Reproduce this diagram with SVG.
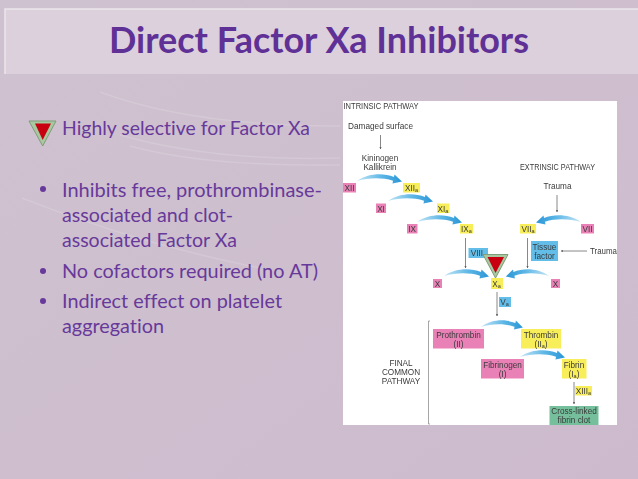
<svg xmlns="http://www.w3.org/2000/svg" width="638" height="479" viewBox="0 0 638 479">
<style>
.t{font-family:"Lato","Open Sans",sans-serif;fill:#67399a;font-variant-ligatures:none}
.b{font-size:19px}
.l,.n{font-family:"Liberation Sans",Arial,sans-serif;font-size:8.2px;fill:#3a3a3a;text-anchor:middle}
.st{text-anchor:start}
.pk{fill:#e981b6}.yl{fill:#f8ee5a}.bl{fill:#62bde8}.gr{fill:#74bf9c}
.arc{fill:url(#g)}
.s{fill:none;stroke:#6a6a6a;stroke-width:.8}
.w{fill:none;stroke:#fff;opacity:.14;stroke-width:1.5}
</style>
<defs>
<linearGradient id="bg" x1="0" y1="0" x2="1" y2="1"><stop offset="0" stop-color="#cfc2d0"/><stop offset="1" stop-color="#cdbbcd"/></linearGradient>
<linearGradient id="g" x1="0" y1="0" x2="1" y2="0"><stop offset="0" stop-color="#c6e6f6"/><stop offset=".55" stop-color="#5cb6e6"/><stop offset="1" stop-color="#2a96d6"/></linearGradient>
<filter id="blur" x="-5%" y="-5%" width="110%" height="110%"><feGaussianBlur stdDeviation=".45"/></filter>
<marker id="a" markerWidth="4" markerHeight="4" refX="3" refY="2" orient="auto"><path d="M0 0.4L3.4 2L0 3.6z" fill="#5f5f5f"/></marker>
<path id="arc" d="M0 0C12 -8 26 -8 37 -4L37.500 -6.500L45 0.500L35.500 2.500L36 -0.300C25 -3.700 12 -3.500 0 0z"/>
</defs>
<rect width="638" height="479" fill="url(#bg)"/>
<path class="w" d="M100 92C170 118 260 126 340 126"/>
<path class="w" d="M120 135C190 155 270 160 340 158"/>
<path class="w" d="M130 146C200 165 280 165 340 165"/>
<path class="w" d="M22 198C90 225 170 250 260 268"/>
<g id="title-band">
<rect x="5" y="9" width="633" height="65" fill="#dbd0db"/>
<path d="M5 74V9H638" fill="none" stroke="#ece6ec" stroke-width="1.5"/>
<text class="t" x="319" y="53" font-size="36" font-weight="700" style="fill:#5f3096" text-anchor="middle" textLength="420" lengthAdjust="spacingAndGlyphs">Direct Factor Xa Inhibitors</text>
</g>
<g id="bullets">
<polygon points="29,121 56,121 42.700,146" fill="#a7c8a0" stroke="#7f9d78" stroke-width="1"/>
<polygon points="35,123.500 51,123.500 42.700,140" fill="#c8000f"/>
<text class="t b" x="62" y="135" textLength="248" lengthAdjust="spacingAndGlyphs">Highly selective for Factor Xa</text>
<circle cx="43" cy="189" r="3" fill="#67399a"/>
<text class="t b" x="62" y="197" textLength="260" lengthAdjust="spacingAndGlyphs">Inhibits free, prothrombinase-</text>
<text class="t b" x="62" y="222" textLength="171" lengthAdjust="spacingAndGlyphs">associated and clot-</text>
<text class="t b" x="62" y="247" textLength="175" lengthAdjust="spacingAndGlyphs">associated Factor Xa</text>
<circle cx="43" cy="271" r="3" fill="#67399a"/>
<text class="t b" x="62" y="278" textLength="256" lengthAdjust="spacingAndGlyphs">No cofactors required (no AT)</text>
<circle cx="43" cy="301" r="3" fill="#67399a"/>
<text class="t b" x="62" y="308" textLength="220" lengthAdjust="spacingAndGlyphs">Indirect effect on platelet</text>
<text class="t b" x="62" y="333" textLength="102" lengthAdjust="spacingAndGlyphs">aggregation</text>
</g>
<g id="figure" filter="url(#blur)">
<rect x="343" y="101" width="274" height="324" fill="#fff"/>
<g id="labels">
<text class="l st" x="343.500" y="109" textLength="75" lengthAdjust="spacingAndGlyphs">INTRINSIC PATHWAY</text>
<text class="l st" x="348" y="129" textLength="65" lengthAdjust="spacingAndGlyphs">Damaged surface</text>
<text class="l" x="380" y="161">Kininogen</text>
<text class="l" x="380" y="170">Kallikrein</text>
<text class="l st" x="520" y="170" textLength="75" lengthAdjust="spacingAndGlyphs">EXTRINSIC PATHWAY</text>
<text class="l" x="557.500" y="189">Trauma</text>
<text class="l st" x="590" y="254" textLength="27" lengthAdjust="spacingAndGlyphs">Trauma</text>
<text class="l" x="401" y="366">FINAL</text>
<text class="l" x="401" y="375">COMMON</text>
<text class="l" x="401" y="384">PATHWAY</text>
</g>
<g id="connectors">
<path class="s" marker-end="url(#a)" d="M380.500 135V149"/>
<path class="s" marker-end="url(#a)" d="M557 195V212"/>
<path class="s" marker-end="url(#a)" d="M587 251H561"/>
<path class="s" marker-end="url(#a)" d="M465.500 238V268"/>
<path class="s" marker-end="url(#a)" d="M527.500 238V268"/>
<path class="s" marker-end="url(#a)" d="M497 292V316"/>
<path class="s" marker-end="url(#a)" d="M574 382V404"/>
<path d="M430 321H428.500V424H430" fill="none" stroke="#8f8f8f" stroke-width=".8"/>
<use href="#arc" class="arc" transform="translate(357 181)"/>
<use href="#arc" class="arc" transform="translate(388 201)"/>
<use href="#arc" class="arc" transform="translate(417 222)"/>
<use href="#arc" class="arc" transform="translate(581 222) scale(-1 1)"/>
<use href="#arc" class="arc" transform="translate(444 276)"/>
<use href="#arc" class="arc" transform="translate(549 276) scale(-.96 1)"/>
<use href="#arc" class="arc" transform="translate(481 327) scale(.93 1)"/>
<use href="#arc" class="arc" transform="translate(520 357)"/>
</g>
<g id="n-xii"><rect class="pk" x="343" y="183" width="13" height="9.500"/><text class="n" x="349.500" y="191">XII</text></g>
<g id="n-xiia"><rect class="yl" x="403" y="183" width="17" height="9.500"/><text class="n" x="411.500" y="191">XII<tspan font-size="5.500" dy="1">a</tspan></text></g>
<g id="n-xi"><rect class="pk" x="376" y="203.500" width="10" height="9.500"/><text class="n" x="381" y="211.500">XI</text></g>
<g id="n-xia"><rect class="yl" x="437" y="203.500" width="12.500" height="9.500"/><text class="n" x="443" y="211.500">XI<tspan font-size="5.500" dy="1">a</tspan></text></g>
<g id="n-ix"><rect class="pk" x="407" y="224" width="10.500" height="9.500"/><text class="n" x="412" y="232">IX</text></g>
<g id="n-ixa"><rect class="yl" x="460" y="224" width="13" height="9.500"/><text class="n" x="466.500" y="232">IX<tspan font-size="5.500" dy="1">a</tspan></text></g>
<g id="n-viia"><rect class="yl" x="520" y="224" width="16" height="9.500"/><text class="n" x="528" y="232">VII<tspan font-size="5.500" dy="1">a</tspan></text></g>
<g id="n-vii"><rect class="pk" x="581" y="224" width="13" height="9.500"/><text class="n" x="587.500" y="232">VII</text></g>
<g id="n-tissue"><rect class="bl" x="531" y="241" width="27" height="20"/><text class="n" x="544.500" y="249.500">Tissue</text><text class="n" x="544.500" y="258.500">factor</text></g>
<g id="n-viii"><rect class="bl" x="468.500" y="248" width="19.500" height="10"/><text class="n" x="477" y="256">VIII</text></g>
<g id="n-x-left"><rect class="pk" x="433" y="279" width="9" height="9"/><text class="n" x="437.500" y="286.500">X</text></g>
<g id="n-xa"><rect class="yl" x="491" y="278" width="12" height="11"/><text class="n" x="496.500" y="287">X<tspan font-size="5.500" dy="1">a</tspan></text></g>
<g id="n-x-right"><rect class="pk" x="551" y="279" width="9" height="9"/><text class="n" x="555.500" y="286.500">X</text></g>
<g id="n-va"><rect class="bl" x="499" y="297" width="12" height="10"/><text class="n" x="504.500" y="305">V<tspan font-size="5.500" dy="1">a</tspan></text></g>
<g id="n-prothrombin"><rect class="pk" x="433" y="329" width="51" height="19.500"/><text class="n" x="458.500" y="337.500">Prothrombin</text><text class="n" x="458.500" y="346.500">(II)</text></g>
<g id="n-thrombin"><rect class="yl" x="521" y="329" width="40" height="19.500"/><text class="n" x="541" y="337.500">Thrombin</text><text class="n" x="541" y="346.500">(II<tspan font-size="5.500" dy="1">a</tspan><tspan dy="-1">)</tspan></text></g>
<g id="n-fibrinogen"><rect class="pk" x="481" y="359" width="43" height="19.500"/><text class="n" x="502.500" y="367.500">Fibrinogen</text><text class="n" x="502.500" y="376.500">(I)</text></g>
<g id="n-fibrin"><rect class="yl" x="562" y="359" width="24.500" height="19.500"/><text class="n" x="574" y="367.500">Fibrin</text><text class="n" x="574" y="376.500">(I<tspan font-size="5.500" dy="1">a</tspan><tspan dy="-1">)</tspan></text></g>
<g id="n-xiiia"><rect class="yl" x="575" y="386" width="17" height="9.500"/><text class="n" x="583.500" y="394">XIII<tspan font-size="5.500" dy="1">a</tspan></text></g>
<g id="n-clot"><rect class="gr" x="549.500" y="406" width="49" height="19"/><text class="n" x="574" y="414">Cross-linked</text><text class="n" x="574" y="423">fibrin clot</text></g>
</g>
<g id="inhibitor-mark">
<polygon points="483,254.500 508,254.500 495.500,278" fill="#a7c8a0" stroke="#7f9d78" stroke-width="1"/>
<polygon points="487.500,257 504,257 495.500,273" fill="#c8000f"/>
</g>
</svg>
